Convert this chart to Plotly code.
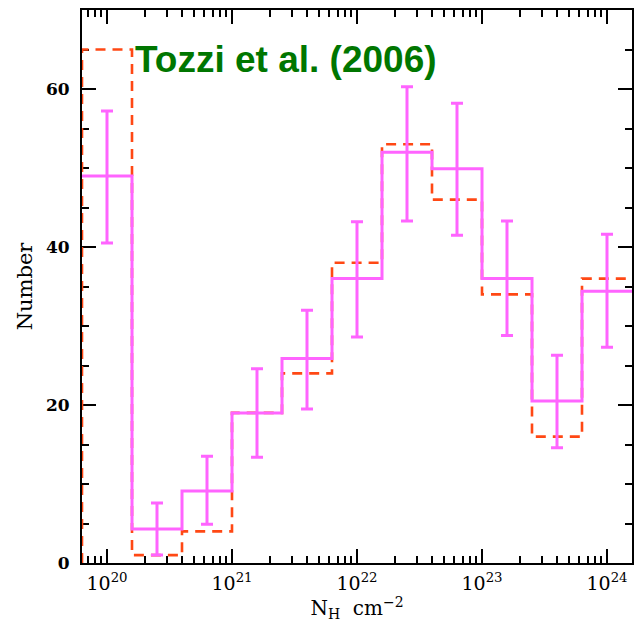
import plotly.graph_objects as go

# ---- data ----
bin_edge_exponents = [19.8, 20.2, 20.6, 21.0, 21.4, 21.8, 22.2, 22.6, 23.0, 23.4, 23.8, 24.2]
observed_counts = [49.0, 4.3, 9.1, 19.0, 25.9, 36.0, 52.0, 49.9, 36.0, 20.5, 34.4]
err_low = [40.5, 1.0, 4.9, 13.4, 19.5, 28.6, 43.3, 41.5, 28.8, 14.6, 27.3]
err_high = [57.2, 7.6, 13.5, 24.6, 32.0, 43.2, 60.3, 58.2, 43.3, 26.3, 41.6]
tozzi_counts = [65.0, 1.0, 4.0, 19.0, 24.0, 38.0, 53.0, 46.0, 34.0, 16.0, 36.0]
major_exponents = [20, 21, 22, 23, 24]

edges = [10.0 ** e for e in bin_edge_exponents]
centers = [10.0 ** ((bin_edge_exponents[i] + bin_edge_exponents[i + 1]) / 2) for i in range(len(observed_counts))]

MAGENTA = "rgb(255,100,255)"
RED = "rgb(255,72,20)"

fig = go.Figure()

# Tozzi et al. histogram (dashed)
fig.add_trace(go.Scatter(
    x=[edges[0]] + edges[:-1] + [edges[-1]],
    y=[0] + tozzi_counts + [tozzi_counts[-1]],
    mode="lines", line=dict(color=RED, width=2.6, dash="10px,7px", shape="hv"),
    cliponaxis=False, hoverinfo="skip", showlegend=False))

# observed histogram (solid)
fig.add_trace(go.Scatter(
    x=edges[:-1] + [edges[-1]],
    y=observed_counts + [observed_counts[-1]],
    mode="lines", line=dict(color=MAGENTA, width=3, shape="hv"),
    hoverinfo="skip", showlegend=False))

# error bars
fig.add_trace(go.Scatter(
    x=centers, y=observed_counts, mode="markers",
    marker=dict(size=1, color="rgba(0,0,0,0)"),
    error_y=dict(type="data", symmetric=False,
                 array=[h - v for h, v in zip(err_high, observed_counts)],
                 arrayminus=[v - l for l, v in zip(err_low, observed_counts)],
                 color=MAGENTA, thickness=3, width=6),
    hoverinfo="skip", showlegend=False))

minor_vals = [k * 10.0 ** e for e in range(19, 25) for k in range(2, 10)]

fig.update_xaxes(
    type="log", range=[bin_edge_exponents[0], bin_edge_exponents[-1]],
    tickmode="array", tickvals=[10.0 ** e for e in major_exponents],
    ticktext=[f"10<sup>{e}</sup>" for e in major_exponents],
    ticks="inside", ticklen=14, tickwidth=1.5, tickcolor="black",
    minor=dict(tickmode="array", tickvals=minor_vals, ticks="inside",
               ticklen=7, tickwidth=1.5, tickcolor="black", showgrid=False),
    showline=True, linewidth=2, linecolor="black", mirror="allticks",
    showgrid=False, zeroline=False, layer="below traces",
    tickfont=dict(family="DejaVu Serif", size=19, color="black"),
    ticklabelstandoff=2,
    title=dict(text="N<sub>H</sub>  cm<sup>−2</sup>",
               font=dict(family="DejaVu Serif", size=20, color="black"), standoff=4),
)
fig.update_yaxes(
    range=[0, 70], tickmode="array", tickvals=[0, 20, 40, 60],
    ticks="inside", ticklen=14, tickwidth=1.5, tickcolor="black",
    minor=dict(dtick=5, ticks="inside", ticklen=7, tickwidth=1.5,
               tickcolor="black", showgrid=False),
    showline=True, linewidth=2, linecolor="black", mirror="allticks",
    showgrid=False, zeroline=False, layer="below traces",
    tickfont=dict(family="DejaVu Serif", size=17, color="black", weight=600),
    ticklabelstandoff=7,
    title=dict(text="Number", font=dict(family="DejaVu Serif", size=21, color="black"), standoff=8),
)

fig.add_annotation(
    text="<b>Tozzi et al. (2006)</b>", xref="paper", yref="paper",
    x=0.0924, y=0.911, xanchor="left", yanchor="middle", showarrow=False,
    font=dict(family="Liberation Sans, Arial, sans-serif", size=37, color="rgb(0,118,0)"))

fig.update_layout(
    width=635, height=626,
    margin=dict(l=82, r=1, t=10, b=63),
    paper_bgcolor="white", plot_bgcolor="white",
    showlegend=False,
)

fig.write_html("out.html")
